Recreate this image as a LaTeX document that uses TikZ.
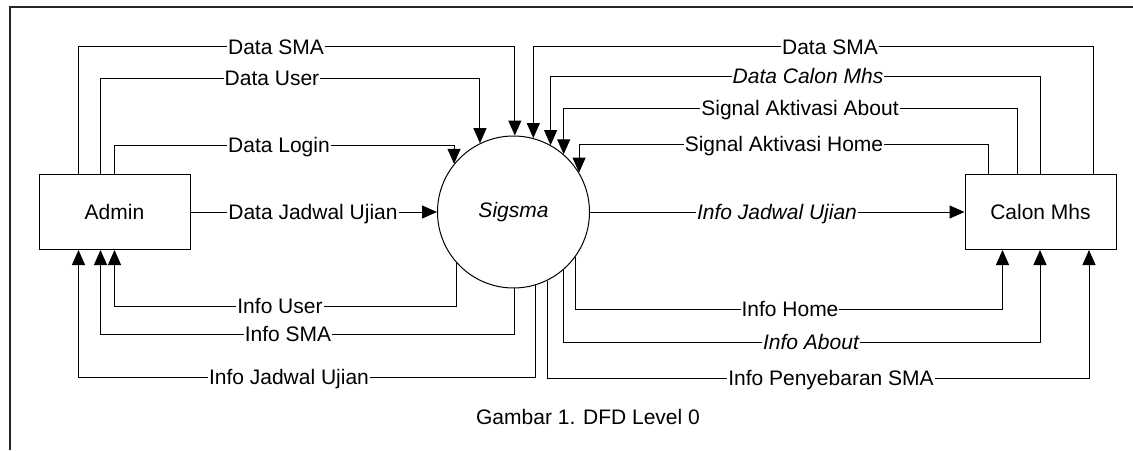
\documentclass[tikz,border=0pt]{standalone}
\usepackage{fontspec}
\setmainfont{Liberation Sans}
\usetikzlibrary{arrows.meta,calc}
\begin{document}
\begin{tikzpicture}[x=1pt,y=-1pt,
  every node/.style={font=\fontsize{21}{25}\selectfont},
  flow/.style={line width=1pt, -{Triangle[length=15pt,width=13pt]}},
  lbl/.style={fill=white, inner sep=1pt, anchor=base, yshift=-7.5pt},
  entity/.style={draw, line width=1pt, minimum width=151pt, minimum height=75pt, inner sep=0pt},
  proc/.style={draw, circle, line width=1pt, minimum size=152pt, inner sep=0pt},
  frame/.style={line width=1.1pt, draw=black!85}]
\useasboundingbox (0,0) rectangle (1133,450);
\draw[frame] (10,450) -- (10,7) -- (1133,7);

\node[entity] (admin) at (114.5,212) {Admin};
\node[entity] (calon) at (1040.5,212) {Calon Mhs};
\node[proc] (sig) at (513.5,212) {\itshape Sigsma};

% ports
\coordinate (aT1) at ([xshift=-36pt]admin.north);
\coordinate (aT2) at ([xshift=-14pt]admin.north);
\coordinate (aT3) at ([xshift=0pt]admin.north);
\coordinate (aB1) at ([xshift=-36pt]admin.south);
\coordinate (aB2) at ([xshift=-14pt]admin.south);
\coordinate (aB3) at ([xshift=0pt]admin.south);
\coordinate (cT1) at ([xshift=52.5pt]calon.north);
\coordinate (cT2) at ([xshift=-0.5pt]calon.north);
\coordinate (cT3) at ([xshift=-23.5pt]calon.north);
\coordinate (cT4) at ([xshift=-52.5pt]calon.north);
\coordinate (cB1) at ([xshift=-38pt]calon.south);
\coordinate (cB2) at ([xshift=-0.5pt]calon.south);
\coordinate (cB3) at ([xshift=48.5pt]calon.south);

% levels
\coordinate (hDSL) at (0,46.5);
\coordinate (hDU) at (0,78);
\coordinate (hDL) at (0,145);
\coordinate (hDSR) at (0,46.5);
\coordinate (hDCM) at (0,76);
\coordinate (hSAA) at (0,108);
\coordinate (hSAH) at (0,144);
\coordinate (hIU) at (0,306);
\coordinate (hIS) at (0,334);
\coordinate (hIJL) at (0,377);
\coordinate (hIH) at (0,309);
\coordinate (hIA) at (0,342);
\coordinate (hIP) at (0,378);

% admin -> sigsma
\draw[flow] (aT1) -- (aT1 |- hDSL) -| (sig.89.6);
\draw[flow] (aT2) -- (aT2 |- hDU) -| (sig.116.6);
\draw[flow] (aT3) -- (aT3 |- hDL) -| (sig.141.5);
\draw[flow] (admin.east) -- (sig.west);
% calon -> sigsma
\draw[flow] (cT1) -- (cT1 |- hDSR) -| (sig.75.1);
\draw[flow] (cT2) -- (cT2 |- hDCM) -| (sig.61.3);
\draw[flow] (cT3) -- (cT3 |- hSAA) -| (sig.49.4);
\draw[flow] (cT4) -- (cT4 |- hSAH) -| (sig.31.9);
% sigsma -> calon
\draw[flow] (sig.east) -- (calon.west);
\draw[flow] (sig.-36) -- (sig.-36 |- hIH) -| (cB1);
\draw[flow] (sig.-49.4) -- (sig.-49.4 |- hIA) -| (cB2);
\draw[flow] (sig.-64.7) -- (sig.-64.7 |- hIP) -| (cB3);
% sigsma -> admin
\draw[flow] (sig.-138) -- (sig.-138 |- hIU) -| (aB3);
\draw[flow] (sig.-89.6) -- (sig.-89.6 |- hIS) -| (aB2);
\draw[flow] (sig.-73.6) -- (sig.-73.6 |- hIJL) -| (aB1);

% labels
\node[lbl] (l1) at (276,46.5) {Data SMA};
\node[lbl] (l2) at (272,78) {Data User};
\node[lbl] (l3) at (279,145) {Data Login};
\node[lbl] (l4) at (313,212) {Data Jadwal Ujian};
\node[lbl] (l5) at (830,46.5) {Data SMA};
\node[lbl] (l6) at (808,76) {\itshape Data Calon Mhs};
\node[lbl] (l7) at (800,108) {Signal Aktivasi About};
\node[lbl] (l8) at (784,144) {Signal Aktivasi Home};
\node[lbl] (l9) at (777,212) {\itshape Info Jadwal Ujian};
\node[lbl] (l10) at (280,306) {Info User};
\node[lbl] (l11) at (288,334) {Info SMA};
\node[lbl] (l12) at (289,377) {Info Jadwal Ujian};
\node[lbl] (l13) at (790,309) {Info Home};
\node[lbl] (l14) at (811,342) {\itshape Info About};
\node[lbl] (l15) at (831,378) {Info Penyebaran SMA};
\node[anchor=base, yshift=-7.5pt] (cap) at (588,417) {Gambar 1. DFD Level 0};
\end{tikzpicture}
\end{document}
